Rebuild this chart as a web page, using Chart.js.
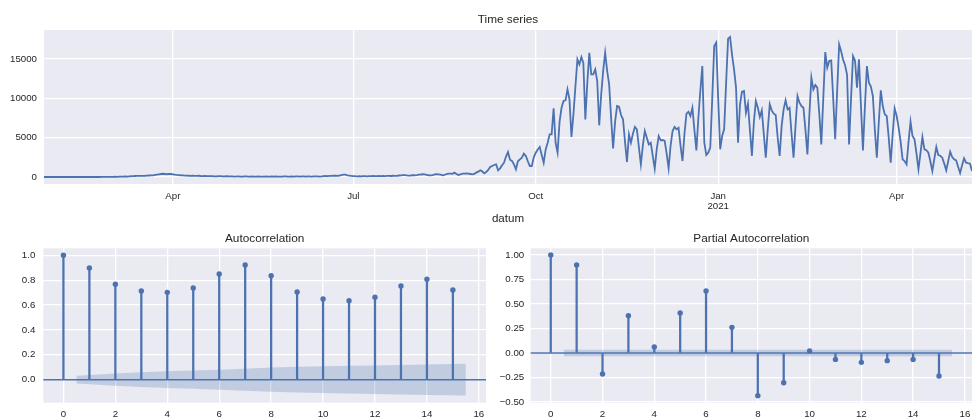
<!DOCTYPE html>
<html>
<head>
<meta charset="utf-8">
<script src="https://cdn.jsdelivr.net/npm/chart.js@4.4.1/dist/chart.umd.min.js"></script>
<style>
  html, body { margin: 0; padding: 0; background: #fff; }
  #wrap { position: relative; width: 972px; height: 419px; overflow: hidden; }
  canvas { position: absolute; }
</style>
</head>
<body>
<div id="wrap">
  <canvas id="ts" width="972" height="226" style="left:0;top:0"></canvas>
  <canvas id="acf" width="490" height="194" style="left:0;top:225px"></canvas>
  <canvas id="pacf" width="486" height="194" style="left:490px;top:225px"></canvas>
</div>
<script>
// daily values, first day 2020-01-27
const startDate = "2020-01-27";
const cases = [
  0,0,0,1,0,0,2,1,0,0,
  1,0,0,2,0,0,1,0,0,0,
  0,0,0,0,1,0,0,2,3,8,
  4,10,12,15,18,25,30,28,45,50,
  60,70,55,80,100,110,130,140,150,145,
  150,160,180,190,200,210,260,300,340,380,
  410,380,350,400,380,340,300,270,250,220,
  200,180,170,160,150,170,150,140,160,130,
  120,140,120,110,100,120,90,80,110,100,
  90,80,100,70,90,80,60,70,90,60,
  50,80,70,60,50,70,60,55,80,60,
  50,60,70,50,60,80,50,70,60,50,
  60,70,80,60,50,70,60,80,70,60,
  70,80,60,90,70,60,80,70,90,60,
  80,110,130,120,150,140,170,160,140,190,
  250,300,290,220,180,140,120,100,90,110,
  80,110,100,90,120,100,130,110,100,140,
  120,130,110,150,140,130,160,150,140,190,
  210,230,250,200,170,190,240,220,250,300,
  320,350,330,280,220,200,230,330,350,340,
  300,220,260,380,420,430,410,550,380,260,
  330,420,440,460,420,380,340,400,560,680,
  850,720,460,630,900,1270,1400,1525,1610,850,
  1100,1500,1820,2600,3180,2200,2050,1600,975,2000,
  2250,2460,2970,2670,2000,1400,1400,2500,3090,3500,
  3810,2800,1820,3500,4360,5420,5420,8730,4360,3090,
  7000,8800,9660,9750,11140,9870,5080,8000,11500,14960,
  14320,15250,14500,7330,12000,15800,13050,13050,13690,12200,
  6570,10510,13500,15800,13500,11780,7500,3640,7000,9020,
  8940,7880,7330,4500,1900,5420,4360,5500,6360,6060,
  3800,1610,4000,5850,5000,4150,4360,2700,1060,3500,
  5210,4660,4700,4580,3000,1100,4000,5850,6360,6060,
  6270,4000,2030,5500,8050,8300,7750,8810,6000,3390,
  7500,11000,14110,4360,2800,3090,3730,10000,16650,17080,
  10000,3520,5210,6060,12000,17580,17800,15500,13690,11360,
  4360,9240,10850,10930,8180,9320,6000,2670,7000,9660,
  8810,7630,8470,5500,2460,6000,9240,8470,8050,7880,
  5000,2670,6500,8600,9750,8600,8810,5500,2460,6500,
  10300,9450,9020,8810,6000,2880,8000,12630,11140,11690,
  11360,8000,4150,10000,15890,13900,14750,14830,10000,4790,
  11000,16860,16000,14900,14200,13000,4150,10000,15380,14830,
  11360,14960,9000,3390,9000,14110,11990,11500,10300,6000,
  2460,7000,11020,9020,7970,7750,5000,1820,5500,8690,
  7750,6270,4500,2250,2030,1610,4500,7030,5210,4790,
  3000,975,3000,5080,3520,3400,3090,2000,760,2300,
  3810,2800,2700,2460,1700,850,2000,3220,2540,2250,
  2120,1300,510,1500,2370,1820,1750,1690,760
];
const tsTickDates = ["2020-04-01", "2020-07-01", "2020-10-01", "2021-01-01", "2021-04-01"];
const tsTickLabels = ["Apr", "Jul", "Oct", ["Jan", "2021"], "Apr"];
const tsYTicks = [0, 5000, 10000, 15000];

const lags = [0, 1, 2, 3, 4, 5, 6, 7, 8, 9, 10, 11, 12, 13, 14, 15];
const acfValues = [1.0, 0.898, 0.767, 0.713, 0.702, 0.737, 0.850, 0.922, 0.836, 0.705, 0.649, 0.635, 0.662, 0.753, 0.807, 0.721];
const acfConf = [0.031, 0.049, 0.059, 0.067, 0.073, 0.080, 0.088, 0.097, 0.103, 0.108, 0.112, 0.115, 0.119, 0.123, 0.128]; // lags 1..15
const pacfValues = [1.0, 0.898, -0.214, 0.381, 0.061, 0.408, 0.633, 0.262, -0.435, -0.303, 0.020, -0.065, -0.095, -0.078, -0.065, -0.235];
const pacfConf = [0.033, 0.033, 0.033, 0.033, 0.033, 0.033, 0.033, 0.033, 0.033, 0.033, 0.033, 0.033, 0.033, 0.033, 0.033];
const lagTicks = [0, 2, 4, 6, 8, 10, 12, 14, 16];
const acfYTicks = [0, 0.2, 0.4, 0.6, 0.8, 1.0];
const acfYLabels = ["0.0", "0.2", "0.4", "0.6", "0.8", "1.0"];
const pacfYTicks = [-0.5, -0.25, 0, 0.25, 0.5, 0.75, 1.0];
const pacfYLabels = ["\u22120.50", "\u22120.25", "0.00", "0.25", "0.50", "0.75", "1.00"];

const BLUE = "#4C72B0";
const BAND = "rgba(76,114,176,0.25)";
const BG = "#EAEAF2";
const TXT = "#262626";
const FONT = "'Liberation Sans', Arial, sans-serif";
const tickFont = { family: FONT, size: 9.7 };

function dayIndex(s) {
  return Math.round((Date.parse(s) - Date.parse(startDate)) / 86400000);
}

const panelBg = {
  id: "panelBg",
  beforeDraw(chart) {
    const a = chart.chartArea, ctx = chart.ctx;
    ctx.save();
    ctx.fillStyle = BG;
    ctx.fillRect(a.left, a.top, a.right - a.left, a.bottom - a.top);
    ctx.restore();
  }
};

const panelTitle = {
  id: "panelTitle",
  afterDraw(chart, args, opts) {
    const a = chart.chartArea, ctx = chart.ctx;
    ctx.save();
    ctx.fillStyle = TXT;
    ctx.font = "11.8px " + FONT;
    ctx.textAlign = "center";
    ctx.textBaseline = "middle";
    ctx.fillText(opts.text, (a.left + a.right) / 2, a.top - 10);
    ctx.restore();
  }
};

const zeroLine = {
  id: "zeroLine",
  beforeDatasetsDraw(chart) {
    const a = chart.chartArea, ctx = chart.ctx;
    const y = chart.scales.y.getPixelForValue(0);
    ctx.save();
    ctx.strokeStyle = BLUE;
    ctx.lineWidth = 1.6;
    ctx.beginPath();
    ctx.moveTo(a.left, y);
    ctx.lineTo(a.right, y);
    ctx.stroke();
    ctx.restore();
  }
};

const gridOpts = { color: "#ffffff", lineWidth: 1.3, drawTicks: false };

// time series
new Chart(document.getElementById("ts"), {
  type: "line",
  data: {
    datasets: [{
      data: cases.map((v, i) => ({ x: i, y: v })),
      borderColor: BLUE,
      borderWidth: 1.8,
      pointRadius: 0,
      tension: 0
    }]
  },
  options: {
    responsive: false,
    animation: false,
    devicePixelRatio: 1,
    layout: { padding: { top: 30, left: 0, right: 0, bottom: 0 } },
    plugins: {
      legend: { display: false },
      tooltip: { enabled: false },
      panelTitle: { text: "Time series" }
    },
    scales: {
      x: {
        type: "linear",
        min: 0,
        max: cases.length - 1,
        afterBuildTicks: s => { s.ticks = tsTickDates.map(d => ({ value: dayIndex(d) })); },
        afterFit: s => { s.height = 42; s.paddingLeft = 0; s.paddingRight = 0; },
        ticks: {
          autoSkip: false, maxRotation: 0, padding: 8,
          font: Object.assign({ lineHeight: 0.95 }, tickFont), color: TXT,
          callback: (v, i) => tsTickLabels[i]
        },
        grid: gridOpts,
        border: { display: false },
        title: { display: true, text: "datum", color: TXT, font: { family: FONT, size: 11.6 }, padding: 0 }
      },
      y: {
        min: -890,
        max: 18690,
        afterBuildTicks: s => { s.ticks = tsYTicks.map(v => ({ value: v })); },
        afterFit: s => { s.width = 44; },
        ticks: { padding: 7, font: tickFont, color: TXT, callback: v => String(v) },
        grid: gridOpts,
        border: { display: false }
      }
    }
  },
  plugins: [panelBg, panelTitle]
});

function corrChart(id, title, values, conf, yMin, yMax, yTicks, yLabels, yWidth, yPad) {
  const last = lags.length - 1;
  const bandX = lags.slice(1).map(l => (l === 1 ? l - 0.5 : l === last ? l + 0.5 : l));
  return new Chart(document.getElementById(id), {
    type: "bar",
    data: {
      datasets: [
        {
          type: "line", order: 0,
          data: lags.map((l, i) => ({ x: l, y: values[i] })),
          showLine: false, pointRadius: 2.7, pointBackgroundColor: BLUE, pointBorderWidth: 0
        },
        {
          type: "bar", order: 1,
          data: lags.map((l, i) => ({ x: l, y: values[i] })),
          backgroundColor: BLUE, barThickness: 1.6, borderWidth: 0
        },
        {
          type: "line", order: 2,
          data: bandX.map((x, i) => ({ x: x, y: conf[i] })),
          borderWidth: 0, pointRadius: 0, fill: "+1", backgroundColor: BAND, tension: 0
        },
        {
          type: "line", order: 3,
          data: bandX.map((x, i) => ({ x: x, y: -conf[i] })),
          borderWidth: 0, pointRadius: 0, fill: false, tension: 0
        }
      ]
    },
    options: {
      responsive: false,
      animation: false,
      devicePixelRatio: 1,
      layout: { padding: { top: 23.3, left: 0, right: 0, bottom: 0 } },
      plugins: {
        legend: { display: false },
        tooltip: { enabled: false },
        panelTitle: { text: title }
      },
      scales: {
        x: {
          type: "linear", offset: false,
          min: -0.775, max: 16.275,
          afterBuildTicks: s => { s.ticks = lagTicks.map(v => ({ value: v })); },
          afterFit: s => { s.height = 16.3; s.paddingLeft = 0; s.paddingRight = 0; },
          ticks: { autoSkip: false, maxRotation: 0, padding: 6, font: tickFont, color: TXT, callback: v => String(v) },
          grid: Object.assign({ offset: false }, gridOpts),
          border: { display: false }
        },
        y: {
          min: yMin, max: yMax,
          afterBuildTicks: s => { s.ticks = yTicks.map(v => ({ value: v })); },
          afterFit: s => { s.width = yWidth; },
          ticks: { padding: yPad, font: tickFont, color: TXT, callback: (v, i) => yLabels[i] },
          grid: gridOpts,
          border: { display: false }
        }
      }
    },
    plugins: [panelBg, panelTitle, zeroLine]
  });
}

corrChart("acf", "Autocorrelation", acfValues, acfConf, -0.185, 1.056, acfYTicks, acfYLabels, 43.3, 8);
corrChart("pacf", "Partial Autocorrelation", pacfValues, pacfConf, -0.507, 1.069, pacfYTicks, pacfYLabels, 40.7, 6.5);
</script>
</body>
</html>
